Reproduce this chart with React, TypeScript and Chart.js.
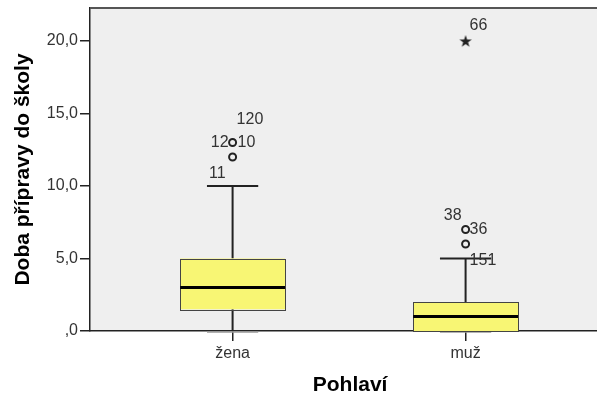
import React, { useEffect, useRef } from "react";
import { Chart, registerables } from "chart.js";

Chart.register(...registerables);

// ---- data ----
const categories = ["žena", "muž"];
const q1Values = [1.5, 0];
const medianValues = [3, 1];
const q3Values = [5, 2];
const whiskerLowValues = [0, 0];
const whiskerHighValues = [10, 5];

const outlierCategoryIndex = [0, 0, 1, 1];
const outlierValues = [12, 13, 6, 7];
const extremeCategoryIndex = [1];
const extremeValues = [20];

const caseLabels = ["11", "12", "10", "120", "151", "38", "36", "66"];
const caseLabelCategory = [0, 0, 0, 0, 1, 1, 1, 1];
const caseLabelValues = [12, 13, 13, 13, 6, 7, 7, 20];

const yTickValues = [0, 5, 10, 15, 20];
const yTickLabels = [",0", "5,0", "10,0", "15,0", "20,0"];

const yAxisTitle = "Doba přípravy do školy";
const xAxisTitle = "Pohlaví";

// ---- style ----
const FONT = "'Liberation Sans', Arial, sans-serif";
const BOX_WIDTH = 0.45; // in x units
const CAP_WIDTH = 0.22;
const BOX_FILL = "#F8F674";
const LINE = "#222";
const labelPlacement: [CanvasTextAlign, number, number][] = [
  ["right", -7, 17],
  ["right", -4, 0],
  ["left", 5, 0],
  ["left", 4, -23],
  ["left", 4, 17],
  ["right", -4, -14],
  ["left", 4, 0],
  ["left", 4, -15],
];

function makeStar(): HTMLCanvasElement {
  const c = document.createElement("canvas");
  c.width = 14;
  c.height = 14;
  const ctx = c.getContext("2d")!;
  ctx.fillStyle = "#222";
  ctx.beginPath();
  const cx = 7, cy = 7.5, ro = 6.5, ri = 2.6;
  for (let i = 0; i < 10; i++) {
    const r = i % 2 === 0 ? ro : ri;
    const a = -Math.PI / 2 + (i * Math.PI) / 5;
    const x = cx + r * Math.cos(a);
    const y = cy + r * Math.sin(a);
    if (i === 0) ctx.moveTo(x, y);
    else ctx.lineTo(x, y);
  }
  ctx.closePath();
  ctx.fill();
  return c;
}

const boxPlugin = {
  id: "boxPlugin",
  beforeDraw(chart: any) {
    const { ctx, chartArea: a } = chart;
    ctx.save();
    ctx.fillStyle = "#EFEFEF";
    ctx.fillRect(a.left, a.top, a.right - a.left, a.bottom - a.top);
    ctx.restore();
  },
  beforeDatasetsDraw(chart: any) {
    const { ctx } = chart;
    const xs = chart.scales.x;
    const ys = chart.scales.y;
    ctx.save();
    categories.forEach((_, i) => {
      const xc = xs.getPixelForValue(i + 1);
      const hw = xs.getPixelForValue(i + 1 + BOX_WIDTH / 2) - xc;
      const cw = xs.getPixelForValue(i + 1 + CAP_WIDTH / 2) - xc;
      const yQ1 = ys.getPixelForValue(q1Values[i]);
      const yQ3 = ys.getPixelForValue(q3Values[i]);
      const yMed = ys.getPixelForValue(medianValues[i]);
      const yLo = ys.getPixelForValue(whiskerLowValues[i]);
      const yHi = ys.getPixelForValue(whiskerHighValues[i]);
      // whiskers
      ctx.strokeStyle = LINE;
      ctx.lineWidth = 2;
      ctx.beginPath();
      ctx.moveTo(xc, yQ3);
      ctx.lineTo(xc, yHi);
      ctx.moveTo(xc, yQ1);
      ctx.lineTo(xc, yLo);
      ctx.stroke();
      // caps
      ctx.beginPath();
      ctx.moveTo(xc - cw, yHi);
      ctx.lineTo(xc + cw, yHi);
      ctx.stroke();
      ctx.strokeStyle = "#999";
      ctx.lineWidth = 1.5;
      ctx.beginPath();
      ctx.moveTo(xc - cw, yLo + 1);
      ctx.lineTo(xc + cw, yLo + 1);
      ctx.stroke();
      // box
      ctx.fillStyle = BOX_FILL;
      ctx.fillRect(xc - hw, yQ3, hw * 2, yQ1 - yQ3);
      ctx.strokeStyle = "#444";
      ctx.lineWidth = 1;
      ctx.strokeRect(Math.round(xc - hw) + 0.5, Math.round(yQ3) + 0.5, Math.round(hw * 2), Math.round(yQ1 - yQ3));
      // median
      ctx.strokeStyle = "#000";
      ctx.lineWidth = 3;
      ctx.beginPath();
      ctx.moveTo(xc - hw, yMed);
      ctx.lineTo(xc + hw, yMed);
      ctx.stroke();
    });
    ctx.restore();
  },
  afterDatasetsDraw(chart: any) {
    const { ctx, chartArea: a } = chart;
    const xs = chart.scales.x;
    const ys = chart.scales.y;
    ctx.save();
    ctx.font = `16px ${FONT}`;
    ctx.fillStyle = "#333";
    ctx.textBaseline = "middle";
    caseLabels.forEach((t, i) => {
      const [align, dx, dy] = labelPlacement[i];
      const x = xs.getPixelForValue(caseLabelCategory[i] + 1);
      const y = ys.getPixelForValue(caseLabelValues[i]);
      ctx.textAlign = align;
      ctx.fillText(t, x + dx, y + dy);
    });
    // top frame line
    ctx.strokeStyle = "#555";
    ctx.lineWidth = 2;
    ctx.beginPath();
    ctx.moveTo(a.left, a.top);
    ctx.lineTo(a.right, a.top);
    ctx.stroke();
    // x axis title
    ctx.font = `bold 21px ${FONT}`;
    ctx.fillStyle = "#000";
    ctx.textAlign = "center";
    ctx.textBaseline = "middle";
    const xMid = (xs.getPixelForValue(1) + xs.getPixelForValue(2)) / 2;
    ctx.fillText(xAxisTitle, xMid + 1, 385);
    ctx.restore();
  },
};

export default function App() {
  const ref = useRef<HTMLCanvasElement>(null);
  useEffect(() => {
    document.body.style.margin = "0";
    const star = makeStar();
    const chart = new Chart(ref.current!, {
      type: "scatter",
      data: {
        datasets: [
          {
            data: outlierValues.map((v, i) => ({ x: outlierCategoryIndex[i] + 1, y: v })),
            pointStyle: "circle",
            pointRadius: 3.5,
            pointBorderWidth: 2,
            pointBorderColor: "#222",
            pointBackgroundColor: "rgba(0,0,0,0)",
          } as any,
          {
            data: extremeValues.map((v, i) => ({ x: extremeCategoryIndex[i] + 1, y: v })),
            pointStyle: star,
            pointRadius: 7,
          } as any,
        ],
      },
      options: {
        animation: false,
        responsive: false,
        devicePixelRatio: 1,
        layout: { autoPadding: false, padding: { top: 8, right: 0, left: 0, bottom: 0 } },
        plugins: { legend: { display: false }, tooltip: { enabled: false } },
        scales: {
          x: {
            type: "linear",
            min: 0.388,
            max: 2.564,
            afterFit: (s: any) => {
              s.height = 63;
              s.paddingLeft = 0;
              s.paddingRight = 0;
            },
            afterBuildTicks: (s: any) => {
              s.ticks = categories.map((_, i) => ({ value: i + 1 }));
            },
            ticks: {
              callback: (v: any) => categories[Math.round(v) - 1] ?? "",
              font: { size: 16, family: FONT },
              color: "#333",
              padding: 3,
              maxRotation: 0,
            },
            grid: { drawOnChartArea: false, tickLength: 10, color: LINE, lineWidth: 1.5 },
            border: { color: LINE, width: 1.5 },
          },
          y: {
            type: "linear",
            min: 0,
            max: 22.28,
            afterFit: (s: any) => {
              s.width = 90;
              s.paddingTop = 0;
              s.paddingBottom = 0;
            },
            afterBuildTicks: (s: any) => {
              s.ticks = yTickValues.map((v) => ({ value: v }));
            },
            ticks: {
              callback: (v: any) => yTickLabels[yTickValues.indexOf(v)] ?? "",
              font: { size: 16, family: FONT },
              color: "#333",
              padding: 2,
            },
            grid: { drawOnChartArea: false, tickLength: 10, color: LINE, lineWidth: 1.5 },
            border: { color: LINE, width: 1.5 },
            title: {
              display: true,
              text: yAxisTitle,
              font: { size: 21, weight: "bold", family: FONT, lineHeight: 1 },
              color: "#000",
              padding: { top: 13, bottom: 0 },
            },
          },
        },
      },
      plugins: [boxPlugin],
    });
    return () => chart.destroy();
  }, []);
  return (
    <div style={{ position: "absolute", left: 0, top: 0, width: 597, height: 394, background: "#fff" }}>
      <canvas ref={ref} width={597} height={394} style={{ display: "block" }} />
    </div>
  );
}
